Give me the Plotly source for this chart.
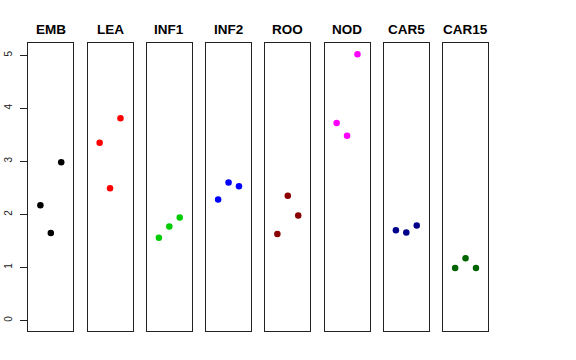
import plotly.graph_objects as go

tissues = ["EMB", "LEA", "INF1", "INF2", "ROO", "NOD", "CAR5", "CAR15"]
colors = ["#000000", "#FF0000", "#00CD00", "#0000FF", "#8B0000", "#FF00FF", "#00008B", "#006400"]
rep_x = [1, 2, 3]
values = {
    "EMB": [2.17, 1.65, 2.98],
    "LEA": [3.35, 2.49, 3.81],
    "INF1": [1.56, 1.77, 1.94],
    "INF2": [2.28, 2.60, 2.53],
    "ROO": [1.63, 2.35, 1.98],
    "NOD": [3.72, 3.48, 5.02],
    "CAR5": [1.70, 1.66, 1.79],
    "CAR15": [0.99, 1.17, 0.99],
}
y_ticks = [0, 1, 2, 3, 4, 5]

W, H = 576, 360
left0, pw, step = 28.3, 45.0, 59.25
top_px, bot_px = 43.3, 330.5

fig = go.Figure()
layout = dict(
    width=W, height=H, margin=dict(l=0, r=0, t=0, b=0, autoexpand=False),
    paper_bgcolor="white", plot_bgcolor="white", showlegend=False,
    font=dict(family="Liberation Sans, Arial, sans-serif", color="black"),
)
annotations = []
for i, t in enumerate(tissues):
    n = "" if i == 0 else str(i + 1)
    fig.add_trace(go.Scatter(
        x=rep_x, y=values[t], mode="markers",
        marker=dict(color=colors[i], size=6.5, line=dict(width=0)),
        xaxis="x" + n, yaxis="y" + n, hoverinfo="skip",
    ))
    x0 = (left0 + i * step) / W
    x1 = (left0 + i * step + pw) / W
    layout["xaxis" + n] = dict(
        domain=[x0, x1], range=[-0.16, 4.16], showgrid=False, zeroline=False,
        showticklabels=False, ticks="", showline=True, mirror=True,
        linecolor="#222222", linewidth=1, anchor="y" + n, fixedrange=True,
        automargin=False,
    )
    ydict = dict(
        domain=[1 - bot_px / H, 1 - top_px / H], range=[-0.19, 5.225],
        showgrid=False, zeroline=False, showline=True, mirror=True,
        linecolor="#222222", linewidth=1, anchor="x" + n, fixedrange=True,
        automargin=False,
    )
    if i == 0:
        ydict.update(tickvals=y_ticks, ticktext=[str(v) for v in y_ticks],
                     ticks="outside", ticklen=7, tickcolor="#222222", tickwidth=1,
                     tickangle=-90, tickfont=dict(size=10, color="#222222"),
                     ticklabelstandoff=4)
    else:
        ydict.update(showticklabels=False, ticks="")
    layout["yaxis" + n] = ydict
    annotations.append(dict(
        text="<b>" + t + "</b>", x=(x0 + x1) / 2, y=1 - 29 / H,
        xref="paper", yref="paper", xanchor="center", yanchor="middle",
        showarrow=False, font=dict(size=13.5, color="black",
                                   family="Liberation Sans, Arial, sans-serif"),
    ))
layout["annotations"] = annotations
fig.update_layout(**layout)
fig.write_html("out.html", config={"displayModeBar": False},
               post_script="document.body.style.margin='0';document.body.style.overflow='hidden';")
